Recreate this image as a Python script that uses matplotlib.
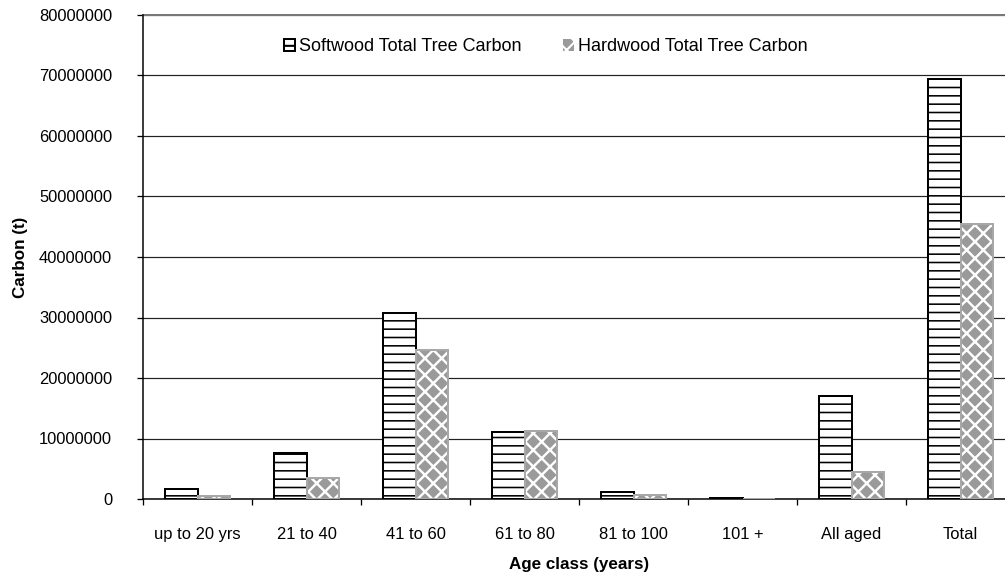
import matplotlib
matplotlib.use("Agg")
import matplotlib.pyplot as plt
import numpy as np
from matplotlib.patches import Patch

categories = ["up to 20 yrs", "21 to 40", "41 to 60", "61 to 80", "81 to 100", "101 +", "All aged", "Total"]
softwood = [1650000, 7600000, 30700000, 11050000, 1200000, 200000, 17000000, 69400000]
hardwood = [450000, 3500000, 24600000, 11300000, 700000, 50000, 4500000, 45400000]
yticks = [0, 10000000, 20000000, 30000000, 40000000, 50000000, 60000000, 70000000, 80000000]

DPI = 150
def px(v):
    return v * 72.0 / DPI

plt.rcParams['font.family'] = ['Liberation Sans', 'DejaVu Sans']
fs = 16.5

fig = plt.figure(figsize=(1005 / DPI, 583 / DPI), dpi=DPI)
ax = fig.add_axes([143 / 1005, 84 / 583, 872 / 1005, 484 / 583])

x = np.arange(len(categories))
w = 0.295

with plt.rc_context({'hatch.linewidth': px(1.6)}):
    b1 = ax.bar(x - w / 2, softwood, w, facecolor='white', edgecolor='black',
                hatch='---', linewidth=px(2.0), zorder=3)
with plt.rc_context({'hatch.linewidth': px(2.4)}):
    b2 = ax.bar(x + w / 2, hardwood, w, facecolor='#9a9a9a', edgecolor='white',
                hatch='xxx', linewidth=0, zorder=3)
    hw_handle = Patch(facecolor='#9a9a9a', edgecolor='white', hatch='xxx', linewidth=0)
ax.bar(x + w / 2, hardwood, w, facecolor='none', edgecolor='#a8a8a8',
       linewidth=px(2.0), zorder=4)

ax.set_xlim(-0.5, len(categories) - 0.5)
ax.set_ylim(0, 80000000)
ax.set_yticks(yticks)
ax.set_yticklabels([str(v) for v in yticks])
ax.set_xticks(x)
ax.set_xticklabels(categories)
ax.set_xticks(np.arange(-0.5, len(categories), 1.0), minor=True)
ax.tick_params(axis='x', which='major', length=0, pad=px(28), labelsize=px(fs))
ax.tick_params(axis='x', which='minor', length=px(6), width=px(1.3), direction='out')
ax.tick_params(axis='y', length=px(6), width=px(1.3), direction='out', pad=px(25), labelsize=px(fs))

ax.yaxis.grid(True, color='#222222', linewidth=px(1.2), zorder=0)
ax.set_axisbelow(True)
for s in ['top', 'right']:
    ax.spines[s].set_visible(False)
ax.spines['left'].set_linewidth(px(1.5))
ax.spines['bottom'].set_linewidth(px(1.5))
ax.axhline(80000000, color='#777777', linewidth=px(2.0), zorder=1, clip_on=False)

ax.set_ylabel("Carbon (t)", fontsize=px(fs + 0.5), fontweight='bold', labelpad=px(11))
ax.set_xlabel("Age class (years)", fontsize=px(fs + 0.5), fontweight='bold', labelpad=px(15))

leg = ax.legend([b1[0], hw_handle], ["Softwood Total Tree Carbon", "Hardwood Total Tree Carbon"],
                loc='center', bbox_to_anchor=(0.462, 0.934), ncol=2, frameon=False,
                fontsize=px(fs + 1.5), handlelength=0.6, handleheight=0.6, handletextpad=0.25,
                columnspacing=2.3)

fig.savefig("out.png", dpi=DPI)
